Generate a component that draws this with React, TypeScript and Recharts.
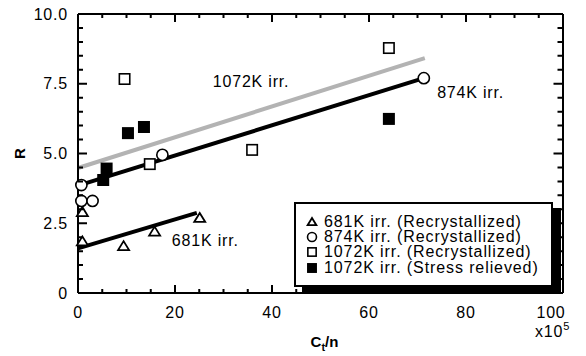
import React from "react";
import {
  ComposedChart,
  Scatter,
  XAxis,
  YAxis,
  ReferenceLine,
  ReferenceDot,
} from "recharts";

// measured points, x in units of 1e5
const tri681 = [
  { x: 0.9, y: 2.9 },
  { x: 0.9, y: 1.85 },
  { x: 9.4, y: 1.68 },
  { x: 15.8, y: 2.2 },
  { x: 25.1, y: 2.69 },
];
const circ874 = [
  { x: 0.7, y: 3.87 },
  { x: 0.7, y: 3.3 },
  { x: 3.0, y: 3.3 },
  { x: 17.4, y: 4.95 },
  { x: 71.3, y: 7.7 },
];
const sqRecryst1072 = [
  { x: 9.6, y: 7.67 },
  { x: 14.8, y: 4.62 },
  { x: 35.9, y: 5.13 },
  { x: 64.1, y: 8.78 },
];
const sqStress1072 = [
  { x: 5.2, y: 4.05 },
  { x: 5.9, y: 4.46 },
  { x: 10.3, y: 5.73 },
  { x: 13.6, y: 5.95 },
  { x: 64.1, y: 6.24 },
];

// fitted lines (end points)
const fit681 = [{ x: 0, y: 1.6 }, { x: 24.5, y: 2.87 }];
const fit874 = [{ x: 0, y: 3.85 }, { x: 71.3, y: 7.7 }];
const fit1072 = [{ x: 0, y: 4.48 }, { x: 71.5, y: 8.42 }];

const annotations = [
  { text: "1072K irr.", x: 27.8, y: 7.6 },
  { text: "874K irr.", x: 74.05, y: 7.2 },
  { text: "681K irr.", x: 19.35, y: 1.9 },
];

const xTicks = [0, 5, 10, 15, 20, 25, 30, 35, 40, 45, 50, 55, 60, 65, 70, 75, 80, 85, 90, 95, 100];
const xMajorTicks = [0, 20, 40, 60, 80, 100];
const yTicks = [0, 0.5, 1, 1.5, 2, 2.5, 3, 3.5, 4, 4.5, 5, 5.5, 6, 6.5, 7, 7.5, 8, 8.5, 9, 9.5, 10];
const yMajorTicks = [0, 2.5, 5, 7.5, 10];
const yTickLabels = ["0", "2.5", "5.0", "7.5", "10.0"];

const legendItems = [
  { kind: "tri", label: "681K irr. (Recrystallized)" },
  { kind: "circle", label: "874K irr. (Recrystallized)" },
  { kind: "square", label: "1072K irr. (Recrystallized)" },
  { kind: "filled", label: "1072K irr. (Stress relieved)" },
];

const FONT = "'Liberation Sans', Arial, sans-serif";
const textStyle = { fontFamily: FONT, fontSize: 16, letterSpacing: 0.8, fill: "#000" };

// tick marks pointing into the plot, drawn as a path along each side of the frame
const XTickLabel = (p: any) => {
  const v = p.payload.value;
  const major = xMajorTicks.includes(v);
  const len = major ? 8 : 4;
  const inner = v > 0 && v < 100;
  return (
    <g>
      {inner && <path d={`M${p.x},${p.y}V${p.y - len}M${p.x},${p.y - 279}V${p.y - 279 + len}`} stroke="#000" strokeWidth={2} fill="none" />}
      {major && (
        <text x={v === 100 ? p.x - 12 : p.x} y={p.y + 25} textAnchor="middle" style={textStyle}>
          {v}
        </text>
      )}
    </g>
  );
};

const YTickLabel = (p: any) => {
  const v = p.payload.value;
  const idx = yMajorTicks.indexOf(v);
  const len = idx >= 0 ? 9 : 5;
  const inner = v > 0 && v < 10;
  return (
    <g>
      {inner && <path d={`M${p.x},${p.y}H${p.x + len}M${p.x + 484.5},${p.y}H${p.x + 484.5 - len}`} stroke="#000" strokeWidth={2} fill="none" />}
      {idx >= 0 && (
        <text x={p.x - 10} y={p.y} dy="0.35em" textAnchor="end" style={textStyle}>
          {yTickLabels[idx]}
        </text>
      )}
    </g>
  );
};

const Marker = ({ kind, cx, cy, s = 1 }: any) => {
  if (kind === "tri") {
    const pts = `${cx},${cy - 5 * s} ${cx + 5.5 * s},${cy + 4 * s} ${cx - 5.5 * s},${cy + 4 * s}`;
    return <polygon points={pts} fill="#fff" stroke="#000" strokeWidth={1.8} />;
  }
  if (kind === "circle") {
    return <circle cx={cx} cy={cy} r={5.6 * s} fill="#fff" stroke="#000" strokeWidth={1.6} />;
  }
  const h = 5.2 * s;
  return (
    <rect
      x={cx - h}
      y={cy - h}
      width={h * 2}
      height={h * 2}
      fill={kind === "filled" ? "#000" : "#fff"}
      stroke="#000"
      strokeWidth={1.6}
    />
  );
};

const axisLine = { stroke: "#000", strokeWidth: 2 };

const Legend = () => (
  <div
    style={{
      position: "absolute",
      left: 294,
      top: 202,
      width: 259,
      height: 85,
      boxSizing: "border-box",
      border: "2px solid #000",
      background: "#fff",
      boxShadow: "8px 6px 0 #000",
      paddingTop: 10,
      fontFamily: FONT,
      fontSize: 16,
      letterSpacing: 0.9,
    }}
  >
    {legendItems.map((it) => (
      <div key={it.label} style={{ display: "flex", alignItems: "center", height: 15.3, whiteSpace: "nowrap" }}>
        <svg width={12} height={12} style={{ marginLeft: 10, marginRight: 6 }}>
          <Marker kind={it.kind} cx={6} cy={6} s={0.8} />
        </svg>
        <span>{it.label}</span>
      </div>
    ))}
  </div>
);

const App = () => {
  return (
    <div style={{ position: "absolute", left: 0, top: 0, width: 586, height: 356, background: "#fff" }}>
      <ComposedChart width={586} height={356} margin={{ top: 14, right: 23, bottom: 23, left: 8 }}>
        <XAxis
          dataKey="x"
          type="number"
          domain={[0, 100]}
          ticks={xTicks}
          interval={0}
          tickSize={0}
          tickMargin={0}
          tickLine={false}
          height={40}
          axisLine={axisLine}
          tick={XTickLabel}
          label={{
            content: ({ viewBox }: any) => (
              <g>
                <text
                  x={viewBox.x + viewBox.width / 2 + 4}
                  y={347}
                  textAnchor="middle"
                  style={{ fontFamily: FONT, fontSize: 15, fontWeight: "bold" }}
                >
                  C<tspan fontSize={11} dy={4}>t</tspan>
                  <tspan dy={-4}>/n</tspan>
                </text>
                <text x={535} y={337} style={textStyle}>
                  x10<tspan fontSize={11} dy={-7}>5</tspan>
                </text>
              </g>
            ),
          }}
        />
        <YAxis
          dataKey="y"
          type="number"
          domain={[0, 10]}
          ticks={yTicks}
          interval={0}
          tickSize={0}
          tickMargin={0}
          tickLine={false}
          width={70}
          axisLine={axisLine}
          tick={YTickLabel}
          label={{
            content: ({ viewBox }: any) => (
              <text
                x={20}
                y={viewBox.y + viewBox.height / 2}
                transform={`rotate(-90 20 ${viewBox.y + viewBox.height / 2})`}
                textAnchor="middle"
                dy="0.35em"
                style={{ fontFamily: FONT, fontSize: 15, fontWeight: "bold" }}
              >
                R
              </text>
            ),
          }}
        />
        {/* frame: top and right edges */}
        <ReferenceLine y={10} stroke="#000" strokeWidth={2} />
        <ReferenceLine x={100} stroke="#000" strokeWidth={2} />
        <ReferenceLine segment={fit1072} stroke="#b3b3b3" strokeWidth={4} />
        <ReferenceLine segment={fit874} stroke="#000" strokeWidth={4} />
        <ReferenceLine segment={fit681} stroke="#000" strokeWidth={4} />
        <Scatter
          data={tri681}
          dataKey="y"
          isAnimationActive={false}
          shape={(p: any) => <Marker kind="tri" cx={p.cx} cy={p.cy} />}
        />
        <Scatter
          data={circ874}
          dataKey="y"
          isAnimationActive={false}
          shape={(p: any) => <Marker kind="circle" cx={p.cx} cy={p.cy} />}
        />
        <Scatter
          data={sqRecryst1072}
          dataKey="y"
          isAnimationActive={false}
          shape={(p: any) => <Marker kind="square" cx={p.cx} cy={p.cy} />}
        />
        <Scatter
          data={sqStress1072}
          dataKey="y"
          isAnimationActive={false}
          shape={(p: any) => <Marker kind="filled" cx={p.cx} cy={p.cy} />}
        />
        {annotations.map((a) => (
          <ReferenceDot
            key={a.text}
            x={a.x}
            y={a.y}
            r={0}
            shape={(p: any) => (
              <text x={p.cx} y={p.cy} dy="0.35em" style={textStyle}>
                {a.text}
              </text>
            )}
          />
        ))}
      </ComposedChart>
      <Legend />
    </div>
  );
};

export default App;
